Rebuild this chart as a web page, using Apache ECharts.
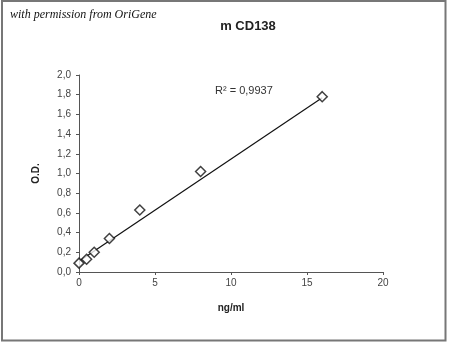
<!DOCTYPE html>
<html><head><meta charset="utf-8">
<script src="https://cdn.jsdelivr.net/npm/echarts@6/dist/echarts.min.js"></script>
<style>html,body{margin:0;padding:0;background:#fff}#c{width:450px;height:344px}</style>
</head><body><div id="c"></div>
<script>
const concX = [0, 0.5, 1, 2, 4, 8, 16];
const odY = [0.09, 0.13, 0.20, 0.34, 0.63, 1.02, 1.78];
const trendX = [0, 16];
const trendY = [0.11, 1.77];
const xTicks = [0, 5, 10, 15, 20];
const yTicks = [0, 0.2, 0.4, 0.6, 0.8, 1.0, 1.2, 1.4, 1.6, 1.8, 2.0];
const titleText = 'm CD138';
const noteText = 'with permission from OriGene';
const r2Text = 'R² = 0,9937';

const chart = echarts.init(document.getElementById('c'), null, {renderer: 'canvas'});
const fmt = v => v.toFixed(1).replace('.', ',');
chart.setOption({
  animation: false,
  backgroundColor: '#fff',
  title: {text: titleText, left: 243, top: 15, textAlign: 'center',
    textStyle: {fontFamily: 'Liberation Sans', fontSize: 13, fontWeight: 'bold', color: '#222'}},
  grid: {left: 79, right: 67, top: 75, bottom: 72, containLabel: false},
  xAxis: {type: 'value', min: 0, max: 20, interval: 5,
    name: 'ng/ml', nameLocation: 'middle', nameGap: 31,
    nameTextStyle: {fontFamily: 'Liberation Sans', fontSize: 10, fontWeight: 'bold', color: '#222'},
    axisLine: {lineStyle: {color: '#555', width: 1}},
    axisTick: {show: true, length: 3, lineStyle: {color: '#555'}},
    axisLabel: {fontFamily: 'Liberation Sans', fontSize: 10, color: '#444', margin: 6,
      formatter: v => xTicks.includes(v) ? String(v) : ''},
    splitLine: {show: false}},
  yAxis: {type: 'value', min: 0, max: 2, interval: 0.2,
    name: 'O.D.', nameLocation: 'middle', nameGap: 38, nameRotate: 90,
    nameTextStyle: {fontFamily: 'Liberation Sans', fontSize: 10, fontWeight: 'bold', color: '#222'},
    axisLine: {show: true, lineStyle: {color: '#555', width: 1}},
    axisTick: {show: true, length: 3, lineStyle: {color: '#555'}},
    axisLabel: {fontFamily: 'Liberation Sans', fontSize: 10, color: '#444', margin: 8,
      formatter: v => fmt(yTicks.find(t => Math.abs(t - v) < 1e-6) ?? v)},
    splitLine: {show: false}},
  series: [
    {type: 'line', data: trendX.map((x, i) => [x, trendY[i]]), showSymbol: false, symbol: 'none',
      lineStyle: {color: '#111', width: 1.2}, z: 2},
    {type: 'scatter', data: concX.map((x, i) => [x, odY[i]]), symbol: 'diamond', symbolSize: [10, 10],
      itemStyle: {color: '#fff', borderColor: '#111', borderWidth: 1.5}, z: 3}
  ],
  graphic: [
    {type: 'rect', shape: {x: 2, y: 1, width: 443.5, height: 339.5}, style: {fill: 'none', stroke: '#777', lineWidth: 2}, z: 100},
    {type: 'text', left: 10, top: 9, style: {text: noteText, font: 'italic 12px "Liberation Serif"', fill: '#111'}},
    {type: 'text', left: 215, top: 85, style: {text: r2Text, font: '11px "Liberation Sans"', fill: '#333'}}
  ]
});
</script></body></html>
